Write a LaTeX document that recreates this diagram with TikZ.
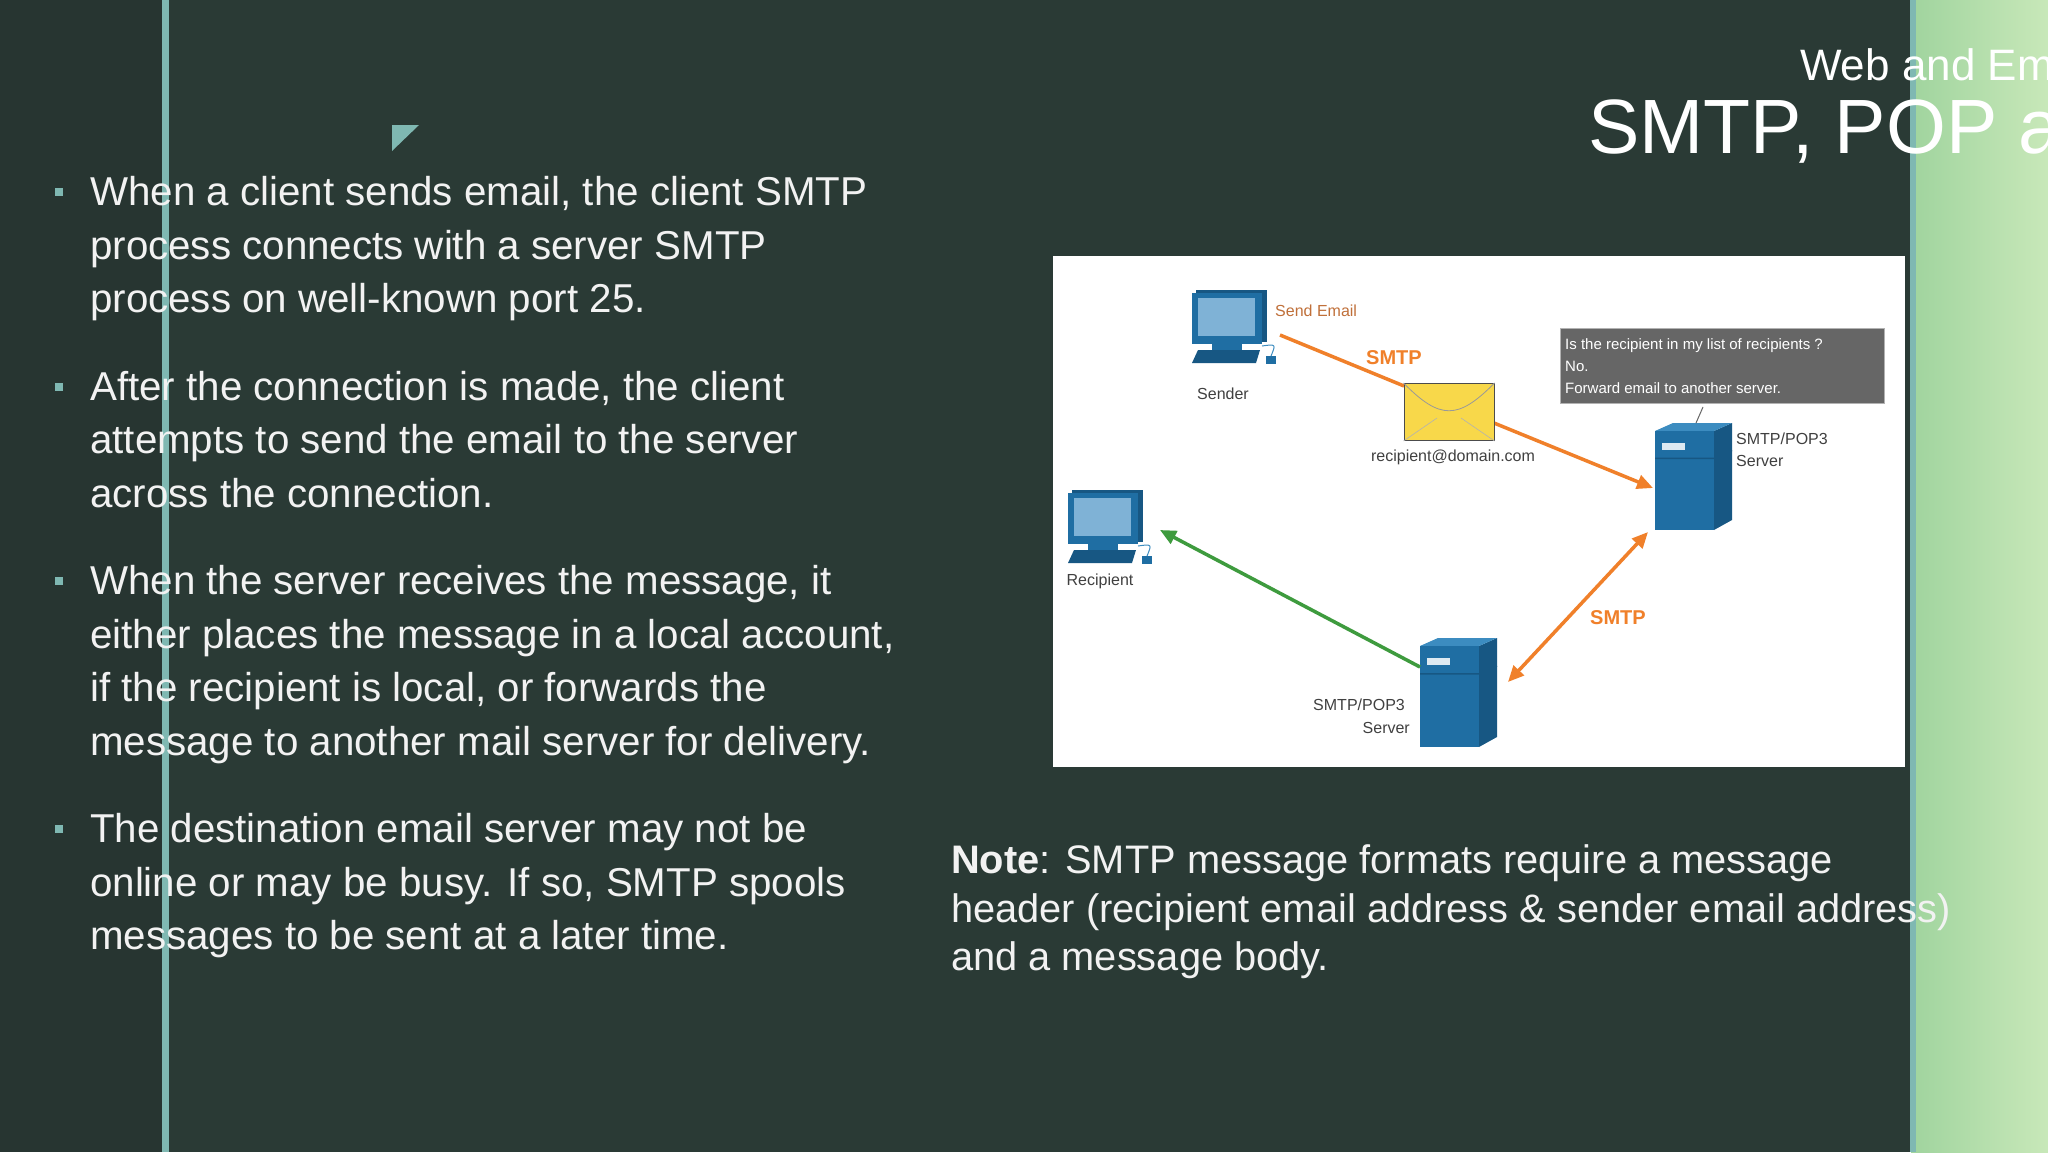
\documentclass[tikz,border=0pt]{standalone}
\usepackage{fontspec}
\setmainfont{Liberation Sans}
\usetikzlibrary{arrows.meta}
\definecolor{bg}{HTML}{2A3A35}
\definecolor{accent}{HTML}{7FB8B2}
\definecolor{txt}{HTML}{F2F2F2}
\definecolor{org}{HTML}{F0802A}
\definecolor{brn}{HTML}{C0703A}
\definecolor{grn}{HTML}{3E9B3E}
\definecolor{srv}{HTML}{1F6EA3}
\definecolor{srvd}{HTML}{175783}
\definecolor{srvl}{HTML}{3C8CC0}
\definecolor{scr}{HTML}{7FB2D6}
\definecolor{envy}{HTML}{F8D84A}
\definecolor{gA}{HTML}{A0D49E}
\definecolor{gB}{HTML}{C8E8B9}
\tikzset{
 body/.style={font=\fontsize{40.3}{46}\selectfont, text=txt, inner sep=0, anchor=base west},
 note/.style={font=\fontsize{39.8}{44}\selectfont, text=txt, inner sep=0, anchor=base west},
 bul/.style={fill=accent, minimum size=8pt, inner sep=0},
 small/.style={font=\fontsize{16}{18}\selectfont, text=black!75, inner sep=0},
 proto/.style={font=\bfseries\fontsize{20}{22}\selectfont, text=org, inner sep=0},
 boxt/.style={font=\fontsize{15}{17}\selectfont, text=white, inner sep=0, anchor=base west},
 arr/.style={line width=3.5pt, -{Triangle[length=16pt,width=14pt]}},
}
\newcommand{\pcicon}[2]{% x,y top-left
 \fill[srvd] (#1+4,#2) -- (#1+75,#2) -- (#1+75,#2+52) -- (#1+4,#2+52) -- cycle;
 \fill[srv] (#1,#2+3) rectangle (#1+70,#2+54);
 \fill[scr] (#1+6,#2+8) rectangle (#1+63,#2+46);
 \fill[srv] (#1+20,#2+54) rectangle (#1+50,#2+60);
 \fill[srvd] (#1+6,#2+60) -- (#1+68,#2+60) -- (#1+64,#2+73) -- (#1+0,#2+73) -- cycle;
 \fill[srv] (#1+74,#2+66) rectangle (#1+84,#2+74);
 \draw[srvl,line width=1pt] (#1+70,#2+56) .. controls (#1+84,#2+54) .. (#1+79,#2+66);
}
\newcommand{\srvicon}[4]{% x1,y1,x2,y2 of front face
 \fill[srvd] (#3,#2+8) -- (#3+18,#2) -- (#3+18,#4-10) -- (#3,#4) -- cycle;
 \fill[srvl] (#1,#2+8) -- (#1+18,#2) -- (#3+18,#2) -- (#3,#2+8) -- cycle;
 \fill[srv] (#1,#2+8) rectangle (#3,#4);
 \draw[srvd,line width=1.5pt] (#1,{#2+0.33*(#4-#2)}) -- (#3,{#2+0.33*(#4-#2)}) -- (#3+18,{#2+0.33*(#4-#2)-8});
 \fill[white!85!srv] (#1+7,#2+20) rectangle (#1+30,#2+27);
}
\begin{document}
\begin{tikzpicture}[x=1pt,y=-1pt]
\useasboundingbox (0,0) rectangle (2048,1152);
\begin{scope}
\clip (0,0) rectangle (2048,1152);
\fill[bg] (0,0) rectangle (2048,1152);
\fill[bg!92!black] (0,0) rectangle (165,1152);
\shade[left color=gA, right color=gB] (1911,0) rectangle (2048,1152);
\fill[accent] (1910,0) rectangle (1916,1152);
\fill[accent] (162,0) rectangle (169,1152);
\fill[accent] (392,125) -- (419,125) -- (392,151) -- cycle;

% title
\node[font=\fontsize{44}{48}\selectfont, text=white, inner sep=0, anchor=base west] (t1) at (1800,80) {Web and Email};
\node[font=\fontsize{77}{80}\selectfont, text=white, inner sep=0, anchor=base west] (t2) at (1588,153) {SMTP, POP and IMAP};

% bullets
\node[bul] (q1) at (59,192) {};
\node[bul] (q2) at (59,386.5) {};
\node[bul] (q3) at (59,581) {};
\node[bul] (q4) at (59,829) {};
\node[body] (l1) at (90,205.5) {When a client sends email, the client SMTP};
\node[body] (l2) at (90,259) {process connects with a server SMTP};
\node[body] (l3) at (90,312.5) {process on well-known port 25.};
\node[body] (l4) at (90,400) {After the connection is made, the client};
\node[body] (l5) at (90,453.5) {attempts to send the email to the server};
\node[body] (l6) at (90,507) {across the connection.};
\node[body] (l7) at (90,594.5) {When the server receives the message, it};
\node[body] (l8) at (90,648) {either places the message in a local account,};
\node[body] (l9) at (90,701.5) {if the recipient is local, or forwards the};
\node[body] (l10) at (90,755) {message to another mail server for delivery.};
\node[body] (l11) at (90,842.5) {The destination email server may not be};
\node[body] (l12) at (90,896.5) {online or may be busy. If so, SMTP spools};
\node[body] (l13) at (90,949.5) {messages to be sent at a later time.};

% note
\node[note] (n1) at (951,873) {\textbf{Note}: SMTP message formats require a message};
\node[note] (n2) at (951,922) {header (recipient email address \& sender email address)};
\node[note] (n3) at (951,970) {and a message body.};

% diagram
\fill[white] (1053,256) rectangle (1905,767);
\pcicon{1192}{290}
\pcicon{1068}{490}
\srvicon{1655}{423}{1714}{530}
\srvicon{1420}{638}{1479}{747}
\coordinate (sA) at (1280,335);
\coordinate (eA) at (1404,386);
\coordinate (eB) at (1494,423);
\coordinate (s1) at (1653,488);
\coordinate (s1b) at (1648,532);
\coordinate (s2) at (1508,682);
\coordinate (s2t) at (1420,667);
\coordinate (rc) at (1160,530);
\draw[org, line width=3.5pt] (sA) -- (eA);
\draw[org, arr] (eB) -- (s1);
\draw[org, arr, {Triangle[length=16pt,width=14pt]}-{Triangle[length=16pt,width=14pt]}] (s2) -- (s1b);
\draw[grn, arr] (s2t) -- (rc);
% envelope
\node[draw=black!70, line width=1pt, fill=envy, minimum width=90pt, minimum height=57pt, inner sep=0] (env) at (1449,412) {};
\draw[black!40, line width=0.8pt] (env.north west) .. controls (1440,420) and (1458,420) .. (env.north east);
\draw[black!30, line width=0.6pt] (env.south west) -- (1437,418) (env.south east) -- (1461,418);
\node[small, text=brn, anchor=west] (se) at (1275,311) {Send Email};
\node[proto] (p1) at (1394,358) {SMTP};
\node[proto] (p2) at (1618,618) {SMTP};
\node[small] (snd) at (1223,394) {Sender};
\node[small] (rcp) at (1100,581) {Recipient};
\node[small] (addr) at (1453,457) {recipient@domain.com};
\node[small, anchor=base west] (sv1a) at (1736,444) {SMTP/POP3};
\node[small, anchor=base west] (sv1b) at (1736,466) {Server};
\node[small, anchor=base east] (sv2a) at (1405,710) {SMTP/POP3};
\node[small, anchor=base east] (sv2b) at (1410,733) {Server};
\fill[black!60, draw=black!30] (1560,328) rectangle (1884,403);
\node[boxt] (b1) at (1565,349) {Is the recipient in my list of recipients ?};
\node[boxt] (b2) at (1565,371) {No.};
\node[boxt] (b3) at (1565,393) {Forward email to another server.};
\coordinate (bt) at (1703,407);
\coordinate (st) at (1696,423);
\draw[black!60, line width=1pt] (bt) -- (st);
\end{scope}
\end{tikzpicture}
\end{document}
